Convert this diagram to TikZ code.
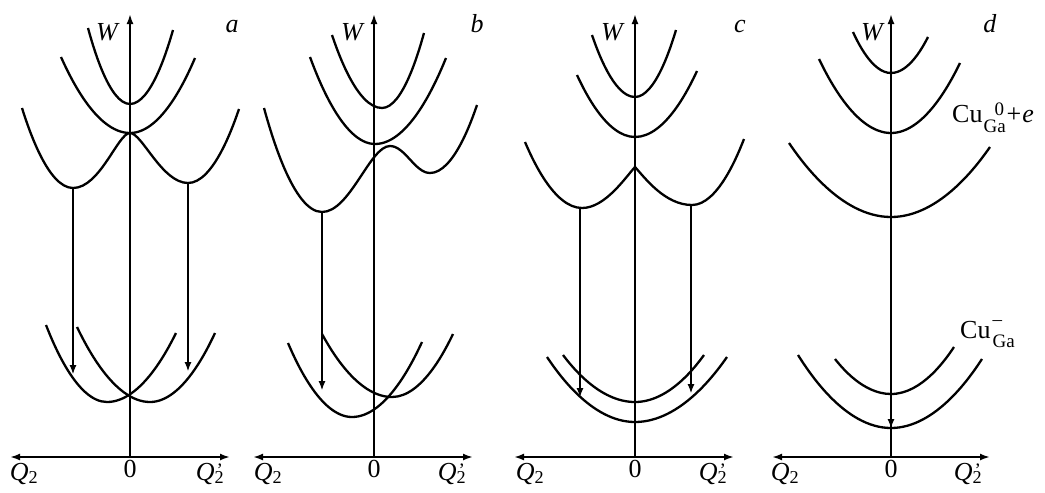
\documentclass[tikz,border=0pt]{standalone}
\usepackage{fontspec}
\setmainfont{Liberation Serif}
\usetikzlibrary{arrows.meta}
\newcommand{\subsz}{\fontsize{19}{21}\selectfont}
\newcommand{\Qtwo}{\textit{Q}\textsubscript{2}}
\newcommand{\Qtwop}{\textit{Q}\rlap{\kern2pt\raisebox{4pt}{\subsz\textquoteright}}\textsubscript{2}}

\begin{document}
\begin{tikzpicture}[x=1pt,y=-1pt,>={Latex[length=10pt,width=7pt]},
 crv/.style={line width=2.3pt,line join=round},
 ax/.style={line width=2.3pt},
 trans/.style={line width=1.1pt,-{Latex[length=9pt,width=7pt]}},
 lbl/.style={font=\fontsize{26}{30}\selectfont,inner sep=0pt,anchor=base}]
\useasboundingbox (0,0) rectangle (1045,493);
% panel a
\coordinate (a-o) at (130,457);\coordinate (a-top) at (130,14);
\coordinate (a-l) at (10,457);\coordinate (a-r) at (230,457);
\draw[ax,->] (a-o)--(a-top);\draw[ax,<->] (a-l)--(a-r);
\node[lbl] (a-W) at (108,40) {\textit{W}};
\node[lbl] (a-name) at (232,32) {\textit{a}};
\node[lbl] (a-Q) at (24,480) {\Qtwo};
\node[lbl] (a-0) at (130,477) {0};
\node[lbl] (a-Qp) at (210,480) {\Qtwop};
\draw[crv] (88,28) parabola bend (130,104) (173,30);
\draw[crv] (61,57) parabola bend (130,133) (195,58);
\draw[crv] (22,108) parabola bend (73,188) (73,188) .. controls (100,188) and (118,133) .. (130,133)
 .. controls (142,133) and (162,183) .. (188,183) parabola bend (188,183) (239,109);
\draw[crv] (46,325) parabola bend (107,402) (176,333);
\draw[crv] (77,327) parabola bend (150,402) (215,333);
\coordinate (a-u1) at (73,188);\coordinate (a-d1) at (73,374);
\coordinate (a-u2) at (188,183);\coordinate (a-d2) at (188,371);
\draw[trans] (a-u1)--(a-d1);\draw[trans] (a-u2)--(a-d2);
% panel b
\coordinate (b-o) at (374,457);\coordinate (b-top) at (374,14);
\coordinate (b-l) at (253,457);\coordinate (b-r) at (473,457);
\draw[ax,->] (b-o)--(b-top);\draw[ax,<->] (b-l)--(b-r);
\node[lbl] (b-W) at (353,40) {\textit{W}};
\node[lbl] (b-name) at (477,32) {\textit{b}};
\node[lbl] (b-Q) at (268,480) {\Qtwo};
\node[lbl] (b-0) at (374,477) {0};
\node[lbl] (b-Qp) at (452,480) {\Qtwop};
\draw[crv] (332,35) parabola bend (382,108) (424,33);
\draw[crv] (310,57) parabola bend (375,144) (446,58);
\draw[crv] (264,108) parabola bend (322,212) (322,212) .. controls (350,212) and (370,146) .. (390,146)
 .. controls (405,146) and (415,173) .. (430,173) parabola bend (430,173) (477,105);
\draw[crv] (288,343) parabola bend (352,417) (422,342);
\draw[crv] (322,334) parabola bend (392,397) (453,334);
\coordinate (b-u1) at (322,212);\coordinate (b-d1) at (322,390);
\draw[trans] (b-u1)--(b-d1);
% panel c
\coordinate (c-o) at (635,457);\coordinate (c-top) at (635,14);
\coordinate (c-l) at (514,457);\coordinate (c-r) at (734,457);
\draw[ax,->] (c-o)--(c-top);\draw[ax,<->] (c-l)--(c-r);
\node[lbl] (c-W) at (613,40) {\textit{W}};
\node[lbl] (c-name) at (740,32) {\textit{c}};
\node[lbl] (c-Q) at (530,480) {\Qtwo};
\node[lbl] (c-0) at (635,477) {0};
\node[lbl] (c-Qp) at (713,480) {\Qtwop};
\draw[crv] (592,35) parabola bend (635,97) (676,30);
\draw[crv] (577,75) parabola bend (635,137) (697,71);
\draw[crv] (525,142) parabola bend (582,208) (582,208) .. controls (605,208) and (625,178) .. (635,167)
 .. controls (645,178) and (665,205) .. (692,205) parabola bend (692,205) (744,139);
\draw[crv] (563,355) parabola bend (635,402) (704,355);
\draw[crv] (547,357) parabola bend (635,422) (727,357);
\coordinate (c-u1) at (580,208);\coordinate (c-d1) at (580,397);
\coordinate (c-u2) at (691,205);\coordinate (c-d2) at (691,393);
\draw[trans] (c-u1)--(c-d1);\draw[trans] (c-u2)--(c-d2);
% panel d
\coordinate (d-o) at (891,457);\coordinate (d-top) at (891,14);
\coordinate (d-l) at (772,457);\coordinate (d-r) at (990,457);
\draw[ax,->] (d-o)--(d-top);\draw[ax,<->] (d-l)--(d-r);
\node[lbl] (d-W) at (873,40) {\textit{W}};
\node[lbl] (d-name) at (990,32) {\textit{d}};
\node[lbl] (d-Q) at (785,480) {\Qtwo};
\node[lbl] (d-0) at (891,477) {0};
\node[lbl] (d-Qp) at (968,480) {\Qtwop};
\draw[crv] (853,32) parabola bend (891,73) (928,37);
\draw[crv] (819,59) parabola bend (891,133) (960,63);
\draw[crv] (789,143) parabola bend (891,217) (990,147);
\draw[crv] (835,359) parabola bend (891,394) (954,347);
\draw[crv] (798,355) parabola bend (891,428) (982,359);
\coordinate (d-u1) at (891,217);\coordinate (d-d1) at (891,428);
\draw[trans] (d-u1)--(d-d1);
\node[lbl,anchor=base west] (d-neutral) at (952,122)
 {Cu\kern1pt\rlap{\kern11pt\raisebox{7pt}{\subsz 0}}\raisebox{-10pt}{\subsz Ga}\kern1pt+\kern1pt\textit{e}};
\node[lbl,anchor=base west] (d-charged) at (960,338)
 {Cu\kern2pt\rlap{\raisebox{13pt}{\subsz –}}\raisebox{-9pt}{\subsz Ga}};
\end{tikzpicture}
\end{document}
